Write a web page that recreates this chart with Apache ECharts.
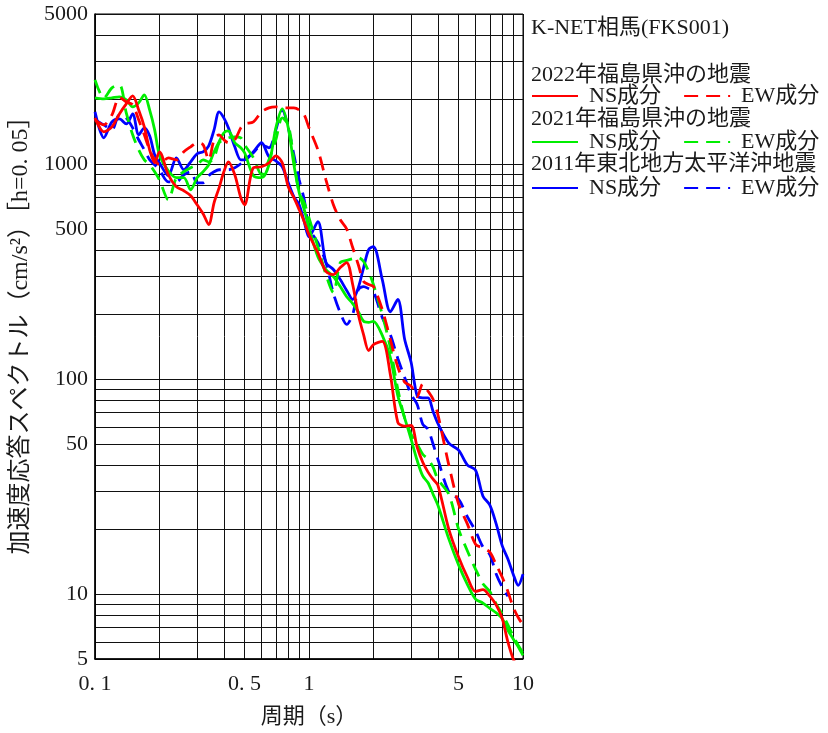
<!DOCTYPE html>
<html><head><meta charset="utf-8">
<script src="https://cdn.jsdelivr.net/npm/echarts@6/dist/echarts.min.js"></script>
<style>html,body{margin:0;padding:0;background:#fff}#c{width:828px;height:733px}</style>
</head><body><div id="c"></div>
<script>
// Periods (s)
const periods = [0.1,0.11,0.12,0.13,0.14,0.15,0.16,0.17,0.18,0.19,0.2,
  0.22,0.24,0.26,0.28,0.3,0.32,0.34,0.36,0.38,0.4,0.42,0.45,0.48,0.5,
  0.55,0.6,0.65,0.7,0.75,0.8,0.85,0.9,0.95,
  1,1.1,1.2,1.3,1.4,1.5,1.6,1.7,1.8,1.9,2,
  2.2,2.4,2.6,2.8,3,3.2,3.4,3.6,3.8,4,
  4.5,5,5.5,6,6.5,7,7.5,8,8.5,9,9.5,10];

// 2022年福島県沖の地震
const ns2022 = [1643,1416,1493,1715,1910,2080,1790,1493,1168,1016,1143,
  894,786,753,714,648,589,524,662,777,923,1027,894,699,648,
  964,974,1016,1095,1016,786,699,615,541,
  470,388,317,307,331,349,276,200,161,136,145,
  150,105,63.1,60.5,61.1,48.4,41.1,37.0,34.3,32.2,
  20.1,14.9,12.0,10.3,10.5,9.8,8.9,7.7,6.0,5.0,4.5,4.1];
const ew2022 = [1609,1525,1697,2050,1950,1889,1609,1371,1168,1049,995,
  1072,1049,1143,1206,1259,1232,1049,1300,1371,1300,1259,1300,1477,1541,
  1575,1752,1830,1849,1830,1830,1830,1790,1697,
  1477,1168,847,648,552,500,410,341,285,276,270,
  211,153,114,97,93,83,95,88,80.7,68.7,
  40,26.3,21.2,17.1,16.4,15.7,13.7,12.0,10.3,8.7,7.8,7.2];

// 2021年福島県沖の地震
const ns2021 = [2036,2015,2036,2058,1993,1849,1930,2103,1790,1446,1107,
  933,866,866,761,866,923,995,1143,1272,1401,1431,1259,1193,1131,
  885,866,995,1477,1810,1477,995,737,615,
  507,372,324,300,270,242,225,206,186,184,186,
  160,126,84,66,52.6,42,35.5,33,29.2,26.0,
  18.1,13.7,11.1,9.5,9.1,8.6,8.2,7.7,6.8,6.2,5.7,5.2];
const ew2021 = [2468,2036,2266,2340,1734,1371,1168,1049,995,923,847,
  684,866,923,964,995,1049,1027,1072,1259,1300,1328,1342,1328,1232,
  1072,894,1049,1300,1643,1525,1049,737,662,
  563,414,307,253,349,357,364,368,353,317,276,
  200,140,90,66,55.5,50,44.8,42.5,39,34.3,
  29.2,20.1,15.9,13.1,11.2,10.3,9.0,8.1,7.2,6.4,5.8,5.3];

// 2011年東北地方太平洋沖地震
const ns2011 = [1752,1328,1575,1626,1541,1715,1371,1477,1357,1107,1016,
  885,1072,943,1027,1119,1143,1219,1446,1752,1643,1477,1206,1049,1049,
  1143,1259,1084,1038,974,820,706,648,541,
  460,541,349,324,291,259,235,267,331,401,414,
  291,206,235,153,120,84,82,82,70.9,62.4,
  50.5,46.8,39.9,37.8,28.6,26.0,21.2,16.8,14.6,12.4,11.0,12.4];
const ew2011 = [1609,1525,1446,1697,1643,1477,1300,1168,1049,995,943,
  829,829,894,923,820,820,885,923,943,943,943,964,1006,1049,
  1131,1232,1193,1446,1790,1477,1107,847,684,
  507,432,349,251,204,180,200,261,270,264,256,
  194,161,125,102,85,76.5,61.8,58.5,50,42.5,
  30,27.7,22.9,19.7,16.6,15.3,12.4,10.8,9.8,null,null,null];

// Axis ticks / grid
const xGridValues = [0.1,0.2,0.3,0.4,0.5,0.6,0.7,0.8,0.9,1,2,3,4,5,6,7,8,9,10];
const yGridValues = [5,6,7,8,9,10,20,30,40,50,60,70,80,90,100,200,300,400,500,600,700,800,900,1000,2000,3000,4000,5000];
const xLabelValues = [0.1,0.5,1,5,10];
const xLabelTexts = ['0. 1','0. 5','1','5','10'];
const yLabelValues = [5,10,50,100,500,1000,5000];

const stationTitle = 'K-NET相馬(FKS001)';
const quakeNames = ['2022年福島県沖の地震','2021年福島県沖の地震','2011年東北地方太平洋沖地震'];
const compNS = 'NS成分', compEW = 'EW成分';
const xAxisTitle = '周期（s）';
const yAxisTitle = '加速度応答スペクトル（cm/s²）［h=0. 05］';

const FONT = '"Liberation Serif", "Noto Sans CJK JP", serif';
const TXT = '#1a1a1a';
const colors = ['#ff0000', '#00ee00', '#0000ff'];
const seriesSets = [[ns2022, ew2022], [ns2021, ew2021], [ns2011, ew2011]];

function pairs(vals) {
  const out = [];
  for (let i = 0; i < periods.length; i++) if (vals[i] != null) out.push([periods[i], vals[i]]);
  return out;
}

const series = [];
const drawOrder = [2, 1, 0];
drawOrder.forEach(q => {
  [0, 1].forEach(c => {
    series.push({
      type: 'line',
      name: quakeNames[q] + ' ' + (c === 0 ? compNS : compEW),
      data: pairs(seriesSets[q][c]),
      symbol: 'none',
      showSymbol: false,
      smooth: 0.3,
      clip: true,
      lineStyle: { color: colors[q], width: 2.8, type: c === 0 ? 'solid' : [14, 8] },
      itemStyle: { color: colors[q] },
      emphasis: { disabled: true },
      z: 3
    });
  });
});

const legendTops = [85, 131, 177];
const legends = quakeNames.map((q, i) => ({
  data: [q + ' ' + compNS, q + ' ' + compEW],
  left: 531, top: legendTops[i], orient: 'horizontal',
  itemWidth: 46, itemHeight: 14, itemGap: 22, padding: 0,
  selectedMode: false,
  itemStyle: { opacity: 0 },
  formatter: n => n.split(' ')[1],
  textStyle: { fontSize: 22, fontFamily: FONT, color: TXT, padding: [0, 0, 0, 6], lineHeight: 22 }
}));

const headingY = [28, 75, 119, 164];
const headingTexts = [stationTitle].concat(quakeNames);
const graphic = headingTexts.map((t, i) => ({
  type: 'text', x: 531, y: headingY[i], silent: true,
  style: { text: t, fill: TXT, fontSize: 22, fontFamily: FONT,
    textAlign: 'left', textVerticalAlign: 'middle', align: 'left', verticalAlign: 'middle' }
}));

const chart = echarts.init(document.getElementById('c'), null, { renderer: 'canvas' });
chart.setOption({
  animation: false,
  backgroundColor: '#fff',
  grid: { left: 95, top: 14, width: 428, height: 646, show: true, borderColor: '#000', borderWidth: 1, backgroundColor: 'transparent' },
  xAxis: {
    type: 'log', logBase: 10, min: 0.1, max: 10,
    axisLine: { show: true, lineStyle: { color: '#000', width: 1.5 } },
    axisTick: { show: false, customValues: xGridValues },
    axisLabel: {
      customValues: xLabelValues, fontSize: 22, fontFamily: FONT, color: TXT, margin: 14,
      formatter: v => { const i = xLabelValues.findIndex(x => Math.abs(x - v) < 1e-6); return i >= 0 ? xLabelTexts[i] : ''; }
    },
    splitLine: { show: true, lineStyle: { color: '#111', width: 1 } },
    name: xAxisTitle, nameLocation: 'middle', nameGap: 47,
    nameTextStyle: { fontSize: 22, fontFamily: FONT, color: TXT }
  },
  yAxis: {
    type: 'log', logBase: 10, min: 5, max: 5000,
    axisLine: { show: true, lineStyle: { color: '#000', width: 1.5 } },
    axisTick: { show: false, customValues: yGridValues },
    axisLabel: { customValues: yLabelValues, fontSize: 22, fontFamily: FONT, color: TXT, margin: 7, formatter: v => String(Math.round(v)) },
    splitLine: { show: true, lineStyle: { color: '#111', width: 1 } },
    name: yAxisTitle, nameLocation: 'middle', nameRotate: 90, nameGap: 61,
    nameTextStyle: { fontSize: 24, fontFamily: FONT, color: TXT, padding: [0, 0, 0, 14] }
  },
  legend: legends,
  graphic: graphic,
  series: series
});
</script>
</body></html>
